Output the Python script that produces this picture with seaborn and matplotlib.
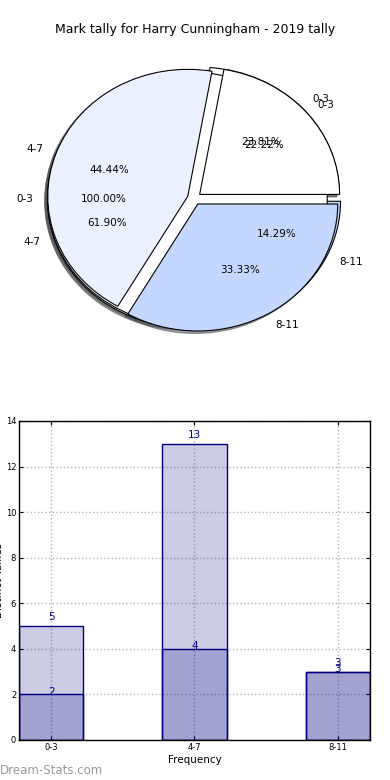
import matplotlib
matplotlib.use("Agg")
import matplotlib.pyplot as plt
import seaborn as sns

# Data
categories = ["0-3", "4-7", "8-11"]
total_marks = [5, 13, 3]
distinct_marks = [2, 4, 3]
single_labels = ["0-3"]
single_values = [1]

pie_colors = ["#ffffff", "#ebf1ff", "#c4d8ff"]
navy_face = (0, 0, 0.5, 0.2)

sns.set_style("white")
plt.rcParams["font.family"] = ["DejaVu Sans"]
plt.rcParams.update({"text.color": "black", "axes.labelcolor": "black",
                     "xtick.color": "black", "ytick.color": "black"})

fig = plt.figure(figsize=(3.9, 7.8), dpi=100)

# Pie chart (three overlaid pies)
ax_pie = fig.add_axes([0.0497, 0.542, 0.897, 0.407])
wedge_kw = dict(edgecolor="black", linewidth=0.8)
text_kw = dict(fontsize=7.5, color="black")
shadow_kw = dict(ox=-0.014, oy=-0.014)

ax_pie.pie(total_marks, labels=categories, colors=pie_colors, autopct="%1.2f%%",
           explode=[0.05] * len(total_marks), shadow=shadow_kw,
           wedgeprops=wedge_kw, textprops=text_kw)
ax_pie.pie(single_values, labels=single_labels, colors=pie_colors[:1], autopct="%1.2f%%",
           explode=[0.05], shadow=shadow_kw, wedgeprops=wedge_kw, textprops=text_kw)
ax_pie.pie(distinct_marks, labels=categories, colors=pie_colors, autopct="%1.2f%%",
           explode=[0.05] * len(distinct_marks), shadow=shadow_kw,
           wedgeprops=wedge_kw, textprops=text_kw)
ax_pie.set_aspect("auto")
ax_pie.set_xlim(-1.25, 1.25)
ax_pie.set_ylim(-1.25, 1.25)
ax_pie.axis("off")

fig.text(0.5, 1 - 30 / 780, "Mark tally for Harry Cunningham - 2019 tally",
         ha="center", va="center", fontsize=9, color="black")

# Bar chart (overlaid bars)
ax_bar = fig.add_axes([0.0487, 0.0513, 0.9, 0.409])
sns.barplot(x=categories, y=total_marks, ax=ax_bar, width=0.45, saturation=1)
sns.barplot(x=categories, y=distinct_marks, ax=ax_bar, width=0.45, saturation=1)
for p in ax_bar.patches:
    p.set_facecolor(navy_face)
    p.set_edgecolor("navy")
    p.set_linewidth(1)
    p.set_alpha(None)

for i, v in enumerate(total_marks):
    ax_bar.annotate(str(v), (i, v), xytext=(0, 6.5), textcoords="offset points",
                    ha="center", va="center", fontsize=7.5, color="navy")
for i, v in enumerate(distinct_marks):
    ax_bar.annotate(str(v), (i, v), xytext=(0, 2), textcoords="offset points",
                    ha="center", va="center", fontsize=7.5, color="navy")

ax_bar.set_xlim(-0.225, 2.225)
ax_bar.set_ylim(0, 14)
ax_bar.set_yticks(range(0, 15, 2))
ax_bar.grid(True, color="#b4b4b4", linestyle=":", linewidth=1)
ax_bar.tick_params(labelsize=6, direction="in", length=3, top=True, right=True,
                   bottom=True, left=True, pad=2)
for s in ax_bar.spines.values():
    s.set_color("black")
    s.set_linewidth(1)
ax_bar.set_xlabel("Frequency", fontsize=7.5, labelpad=2)
ax_bar.set_ylabel("Distinct Tallies", fontsize=7.5)
ax_bar.yaxis.set_label_coords(-0.043, 0.5)

fig.text(0.0, 1 - 770 / 780, "Dream-Stats.com", ha="left", va="center",
         fontsize=8.5, color="#9a9a9a")

fig.savefig("out.png", dpi=100)
